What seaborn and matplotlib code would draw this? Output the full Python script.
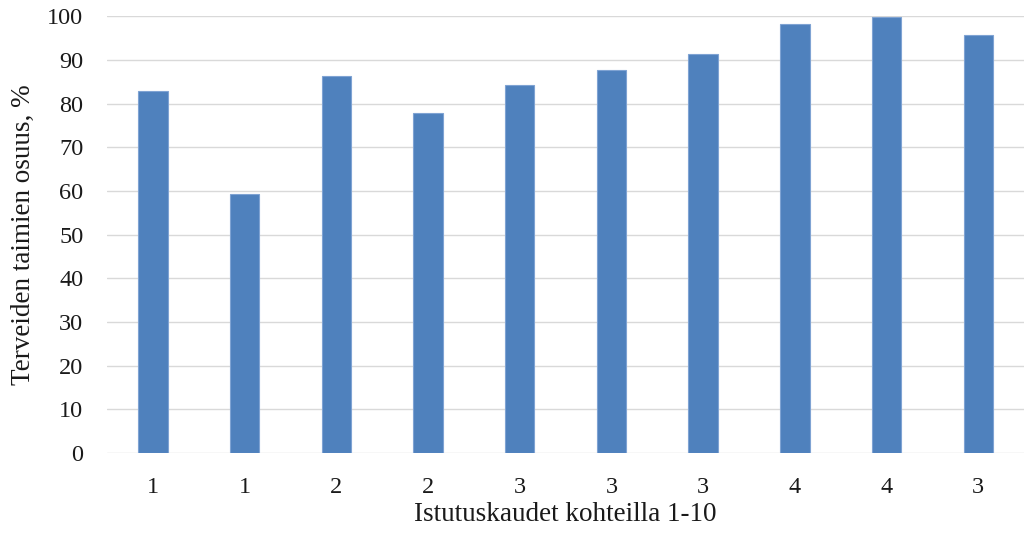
import matplotlib
matplotlib.use("Agg")
import matplotlib.pyplot as plt
import seaborn as sns
import pandas as pd

# Planting seasons per site (sites 1-10) and share of healthy seedlings
site = ["1", "2", "3", "4", "5", "6", "7", "8", "9", "10"]
seasons = ["1", "1", "2", "2", "3", "3", "3", "4", "4", "3"]
healthy_pct = [83.0, 59.3, 86.3, 77.8, 84.2, 87.7, 91.3, 98.3, 99.9, 95.7]

df = pd.DataFrame({"site": site, "pct": healthy_pct})

sns.set_theme(style="white")
plt.rcParams["font.family"] = ["Liberation Serif", "DejaVu Serif"]

fig = plt.figure(figsize=(10.27, 5.37), dpi=100)
ax = fig.add_axes([0.1042, 0.1564, 0.893, 0.8129])

sns.barplot(data=df, x="site", y="pct", color="#4F81BD", saturation=1,
            width=0.32, edgecolor="#7FA3D3", linewidth=0.8, ax=ax, zorder=3)

ax.set_ylim(0, 100)
ax.set_yticks(range(0, 101, 10))
ax.set_xlim(-0.5, len(site) - 0.5)
ax.set_xticks(range(len(site)))
ax.set_xticklabels(seasons)
ax.yaxis.grid(True, color="#D9D9D9", linewidth=1.0, zorder=0)
ax.set_axisbelow(True)
for s in ax.spines.values():
    s.set_visible(False)
ax.tick_params(axis="both", length=0, labelsize=17.5, colors="#1a1a1a")
ax.tick_params(axis="x", pad=17)
ax.tick_params(axis="y", pad=17)

ax.set_xlabel("Istutuskaudet kohteilla 1-10", fontsize=19.5, color="#1a1a1a", labelpad=3)
ax.set_ylabel("Terveiden taimien osuus, %", fontsize=19.5, color="#1a1a1a", labelpad=8)

fig.savefig("out.png", dpi=100)
